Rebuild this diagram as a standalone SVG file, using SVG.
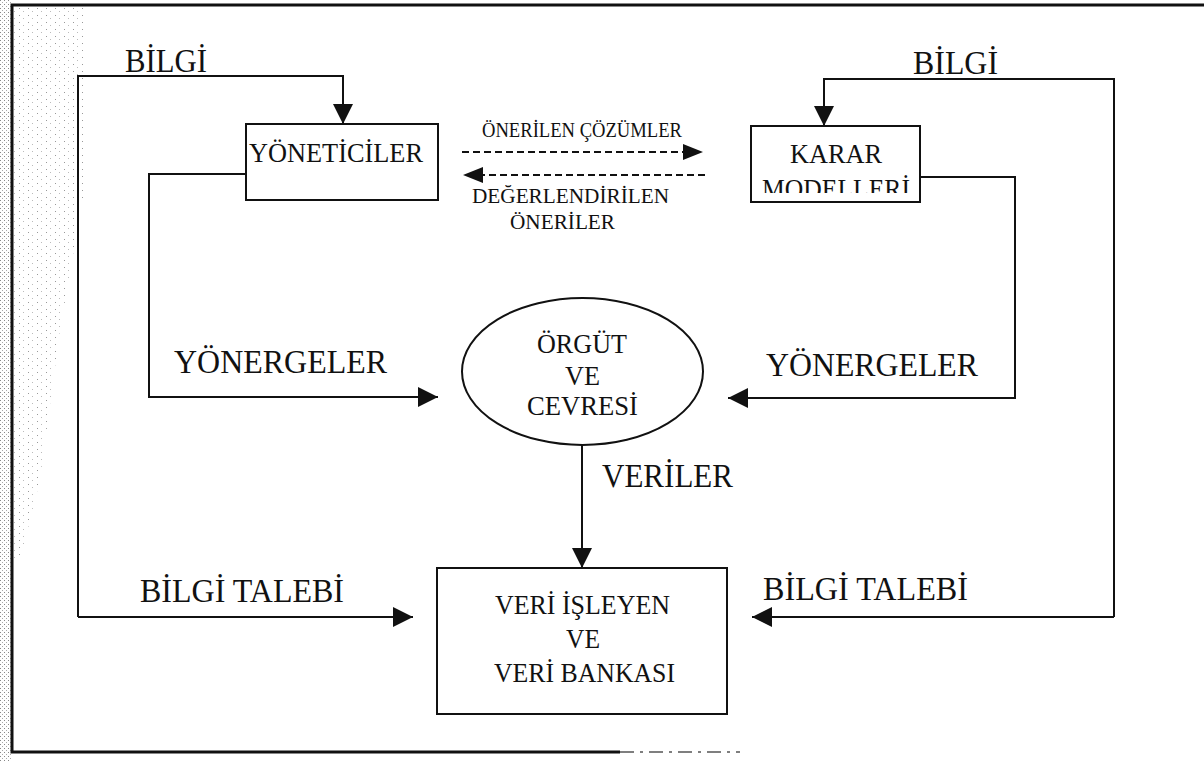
<svg xmlns="http://www.w3.org/2000/svg" width="1204" height="762" viewBox="0 0 1204 762">
<style>
  text { font-family: "Liberation Serif", "Times New Roman", serif; fill: #111; }
  .lbl { font-size: 33px; }
  .node { font-size: 28px; }
  .small { font-size: 21px; }
  .ln { fill: none; stroke: #111; stroke-width: 2; }
  .dash { fill: none; stroke: #111; stroke-width: 2; stroke-dasharray: 7 4; }
  .box { fill: #fff; stroke: #111; stroke-width: 2; }
  .frame { fill: none; stroke: #111; stroke-width: 3; }
</style>
<defs>
  <marker id="ah" viewBox="0 0 20 20" markerWidth="20" markerHeight="20" refX="20" refY="10" orient="auto" markerUnits="userSpaceOnUse">
    <path d="M0,0 L20,10 L0,20 z" fill="#111"/>
  </marker>
  <marker id="ahs" viewBox="0 0 20 16" markerWidth="20" markerHeight="16" refX="20" refY="8" orient="auto" markerUnits="userSpaceOnUse">
    <path d="M0,0 L20,8 L0,16 z" fill="#111"/>
  </marker>
  <pattern id="stip" width="4" height="4" patternUnits="userSpaceOnUse">
    <rect width="4" height="4" fill="#fff"/>
    <rect x="0" y="0" width="1" height="1" fill="#888"/>
    <rect x="2" y="2" width="1" height="1" fill="#aaa"/>
  </pattern>
  <pattern id="sparse" width="9" height="7" patternUnits="userSpaceOnUse">
    <rect x="1" y="1" width="1" height="1" fill="#999"/>
    <rect x="5" y="4" width="1" height="1" fill="#bbb"/>
  </pattern>
  <clipPath id="kclip"><rect x="752" y="127" width="167" height="66"/></clipPath>
</defs>

<rect width="1204" height="762" fill="#fff"/>
<rect x="0" y="0" width="11" height="762" fill="url(#stip)"/>
<polygon points="14,7 86,7 86,180 60,330 40,480 20,560 14,560" fill="url(#sparse)"/>

<g id="frame">
  <polyline class="frame" points="1204,5 12,5 12,752 620,752"/>
  <line x1="620" y1="752" x2="740" y2="752" stroke="#555" stroke-width="1.5" stroke-dasharray="14 6 3 6"/>
</g>

<g id="connectors">
  <polyline class="ln" points="78,617 78,76 343,76 343,124" marker-end="url(#ah)"/>
  <polyline class="ln" points="78,617 413,617" marker-end="url(#ah)"/>
  <polyline class="ln" points="1114,617 1114,79 824,79 824,126" marker-end="url(#ah)"/>
  <polyline class="ln" points="1114,617 752,617" marker-end="url(#ah)"/>
  <polyline class="ln" points="246,174 149,174 149,397 438,397" marker-end="url(#ah)"/>
  <polyline class="ln" points="920,177 1015,177 1015,398 728,398" marker-end="url(#ah)"/>
  <line class="ln" x1="582" y1="445" x2="582" y2="568" marker-end="url(#ah)"/>
  <line class="dash" x1="462" y1="152" x2="703" y2="152" marker-end="url(#ahs)"/>
  <line class="dash" x1="705" y1="175" x2="463" y2="175" marker-end="url(#ahs)"/>
</g>

<g id="labels">
  <text class="lbl" x="125" y="72" font-size="30" textLength="82" lengthAdjust="spacingAndGlyphs">BİLGİ</text>
  <text class="lbl" x="913" y="74" font-size="30" textLength="85" lengthAdjust="spacingAndGlyphs">BİLGİ</text>
  <text class="lbl" x="174" y="373" font-size="34" textLength="213" lengthAdjust="spacingAndGlyphs">YÖNERGELER</text>
  <text class="lbl" x="766" y="376" font-size="34" textLength="212" lengthAdjust="spacingAndGlyphs">YÖNERGELER</text>
  <text class="lbl" x="140" y="602" textLength="204" lengthAdjust="spacingAndGlyphs">BİLGİ TALEBİ</text>
  <text class="lbl" x="763" y="600" textLength="205" lengthAdjust="spacingAndGlyphs">BİLGİ TALEBİ</text>
  <text class="lbl" x="602" y="487" textLength="131" lengthAdjust="spacingAndGlyphs">VERİLER</text>
  <text class="small" x="482" y="137" font-size="19" textLength="200" lengthAdjust="spacingAndGlyphs">ÖNERİLEN ÇÖZÜMLER</text>
  <text class="small" x="472" y="203" textLength="197" lengthAdjust="spacingAndGlyphs">DEĞERLENDİRİLEN</text>
  <text class="small" x="510" y="229" textLength="105" lengthAdjust="spacingAndGlyphs">ÖNERİLER</text>
</g>

<g id="yoneticiler">
  <rect class="box" x="246" y="124" width="192" height="76"/>
  <text class="node" x="249" y="162" font-size="29" textLength="174" lengthAdjust="spacingAndGlyphs">YÖNETİCİLER</text>
</g>

<g id="karar-modelleri">
  <rect class="box" x="751" y="126" width="169" height="76"/>
  <text class="node" x="790" y="163" textLength="92" lengthAdjust="spacingAndGlyphs">KARAR</text>
  <text class="node" x="762" y="198" textLength="148" lengthAdjust="spacingAndGlyphs" clip-path="url(#kclip)">MODELLERİ</text>
</g>

<g id="orgut">
  <ellipse cx="582.5" cy="371.5" rx="120.5" ry="73.5" fill="#fff" stroke="#111" stroke-width="2"/>
  <text class="node" x="537" y="353" textLength="90" lengthAdjust="spacingAndGlyphs">ÖRGÜT</text>
  <text class="node" x="565" y="385" textLength="35" lengthAdjust="spacingAndGlyphs">VE</text>
  <text class="node" x="527" y="415" textLength="111" lengthAdjust="spacingAndGlyphs">CEVRESİ</text>
</g>

<g id="veri-bankasi">
  <rect class="box" x="437" y="568" width="290" height="146"/>
  <text class="node" x="495" y="614" textLength="175" lengthAdjust="spacingAndGlyphs">VERİ İŞLEYEN</text>
  <text class="node" x="566" y="648" textLength="34" lengthAdjust="spacingAndGlyphs">VE</text>
  <text class="node" x="494" y="682" textLength="181" lengthAdjust="spacingAndGlyphs">VERİ BANKASI</text>
</g>
</svg>
